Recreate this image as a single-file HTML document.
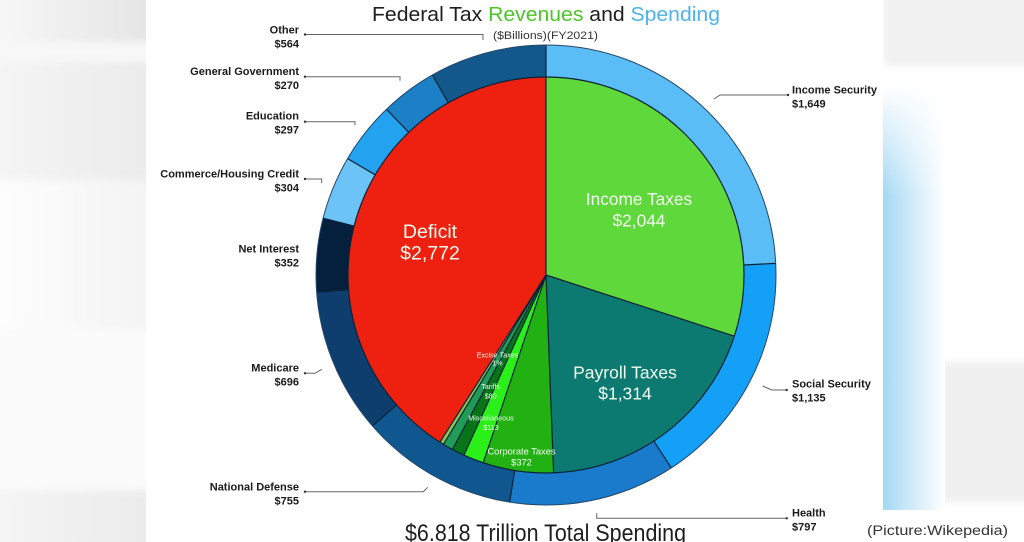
<!DOCTYPE html>
<html>
<head>
<meta charset="utf-8">
<style>
  html,body{margin:0;padding:0;background:#fff;}
  body{width:1024px;height:542px;overflow:hidden;}
  svg{display:block;}
  text{font-family:"Liberation Sans",Arial,sans-serif;}
  .lab{font-size:11px;font-weight:bold;fill:#1a1a1a;}
</style>
</head>
<body>
<svg width="1024" height="542" viewBox="0 0 1024 542" xmlns="http://www.w3.org/2000/svg">
  <defs>
    <linearGradient id="lg1" x1="0" x2="1" y1="0" y2="0">
      <stop offset="0" stop-color="#f8f8f8"/>
      <stop offset="1" stop-color="#e4e4e4"/>
    </linearGradient>
    <linearGradient id="lg2" x1="0" x2="1" y1="0" y2="0">
      <stop offset="0" stop-color="#f5f5f5"/>
      <stop offset="1" stop-color="#ebebeb"/>
    </linearGradient>
    <linearGradient id="lg3" x1="0" x2="1" y1="0" y2="0">
      <stop offset="0" stop-color="#fefefe"/>
      <stop offset="1" stop-color="#f3f3f3"/>
    </linearGradient>
    <linearGradient id="blue" x1="0" x2="1" y1="0" y2="0">
      <stop offset="0" stop-color="#a3d8f4"/>
      <stop offset="0.45" stop-color="#cfeaf9"/>
      <stop offset="1" stop-color="#ffffff"/>
    </linearGradient>
    <linearGradient id="fadeTop" x1="0" x2="0" y1="0" y2="1">
      <stop offset="0" stop-color="#ffffff" stop-opacity="1"/>
      <stop offset="1" stop-color="#ffffff" stop-opacity="0"/>
    </linearGradient>
    <filter id="blur" x="-10%" y="-10%" width="120%" height="120%">
      <feGaussianBlur stdDeviation="4"/>
    </filter>
    <clipPath id="leftClip"><rect x="0" y="0" width="146" height="542"/></clipPath>
    <clipPath id="rightClip"><rect x="883" y="0" width="141" height="542"/></clipPath>
  </defs>

  <!-- left background -->
  <rect x="0" y="0" width="146" height="542" fill="#fafafa"/>
  <g clip-path="url(#leftClip)">
    <g filter="url(#blur)">
      <rect x="-10" y="-10" width="166" height="52" fill="url(#lg1)"/>
      <rect x="-10" y="42" width="166" height="20" fill="#f8f8f8"/>
      <rect x="-10" y="62" width="166" height="118" fill="url(#lg2)"/>
      <rect x="-10" y="180" width="166" height="150" fill="url(#lg3)"/>
      <rect x="-10" y="330" width="166" height="160" fill="#fbfbfb"/>
      <rect x="-10" y="490" width="166" height="62" fill="url(#lg2)"/>
    </g>
  </g>

  <!-- right background -->
  <rect x="883" y="0" width="141" height="542" fill="#ffffff"/>
  <g clip-path="url(#rightClip)">
    <g filter="url(#blur)">
      <rect x="883" y="-10" width="151" height="76" fill="#f1f1f1"/>
      <rect x="940" y="362" width="94" height="140" fill="#f0f0f0"/>
    </g>
    <rect x="883" y="85" width="62" height="425" fill="url(#blue)"/>
    <rect x="883" y="85" width="62" height="110" fill="url(#fadeTop)"/>
  </g>

  <!-- Title -->
  <text x="372" y="21" font-size="20" textLength="348" lengthAdjust="spacingAndGlyphs"><tspan fill="#1e1e1e">Federal Tax </tspan><tspan fill="#4cc42a">Revenues</tspan><tspan fill="#1e1e1e"> and </tspan><tspan fill="#4cb3ee">Spending</tspan></text>
  <text x="493" y="39" font-size="11" fill="#333" textLength="105" lengthAdjust="spacingAndGlyphs">($Billions)(FY2021)</text>

  <!-- Outer ring -->
  <g transform="rotate(-90 546 275)" fill="none" stroke-width="32">
    <circle cx="546" cy="275" r="214" stroke="#5bbdf6" stroke-dasharray="325.32 3000" stroke-dashoffset="0"/>
    <circle cx="546" cy="275" r="214" stroke="#14a0f6" stroke-dasharray="223.73 3000" stroke-dashoffset="-325.32"/>
    <circle cx="546" cy="275" r="214" stroke="#1a7bcd" stroke-dasharray="157.24 3000" stroke-dashoffset="-549.05"/>
    <circle cx="546" cy="275" r="214" stroke="#10568f" stroke-dasharray="149.03 3000" stroke-dashoffset="-706.29"/>
    <circle cx="546" cy="275" r="214" stroke="#0d3e6e" stroke-dasharray="137.07 3000" stroke-dashoffset="-855.32"/>
    <circle cx="546" cy="275" r="214" stroke="#05203d" stroke-dasharray="69.47 3000" stroke-dashoffset="-992.39"/>
    <circle cx="546" cy="275" r="214" stroke="#6cc4f6" stroke-dasharray="60.13 3000" stroke-dashoffset="-1061.86"/>
    <circle cx="546" cy="275" r="214" stroke="#22a2ef" stroke-dasharray="58.64 3000" stroke-dashoffset="-1121.99"/>
    <circle cx="546" cy="275" r="214" stroke="#1b80c6" stroke-dasharray="53.41 3000" stroke-dashoffset="-1180.64"/>
    <circle cx="546" cy="275" r="214" stroke="#13588b" stroke-dasharray="110.80 3000" stroke-dashoffset="-1234.05"/>
  </g>

  <!-- Inner pie -->
  <g transform="rotate(-90 546 275)" fill="none" stroke-width="198">
    <circle cx="546" cy="275" r="99" stroke="#5ed83a" stroke-dasharray="186.61 3000" stroke-dashoffset="0"/>
    <circle cx="546" cy="275" r="99" stroke="#0c7a70" stroke-dasharray="120.61 3000" stroke-dashoffset="-186.61"/>
    <circle cx="546" cy="275" r="99" stroke="#21b113" stroke-dasharray="35.77 3000" stroke-dashoffset="-307.21"/>
    <circle cx="546" cy="275" r="99" stroke="#2aef18" stroke-dasharray="10.37 3000" stroke-dashoffset="-342.98"/>
    <circle cx="546" cy="275" r="99" stroke="#087418" stroke-dasharray="6.39 3000" stroke-dashoffset="-353.35"/>
    <circle cx="546" cy="275" r="99" stroke="#1f9c58" stroke-dasharray="5.18 3000" stroke-dashoffset="-359.74"/>
    <circle cx="546" cy="275" r="99" stroke="#8cc452" stroke-dasharray="2.07 3000" stroke-dashoffset="-364.92"/>
    <circle cx="546" cy="275" r="99" stroke="#ee2010" stroke-dasharray="255.30 3000" stroke-dashoffset="-366.99"/>
  </g>

  <!-- separators -->
  <g stroke="#0c2236" stroke-width="1.2" fill="none">
    <line x1="546" y1="275" x2="546" y2="45"/>
    <line x1="546" y1="275" x2="734.3" y2="336.2"/>
    <line x1="546" y1="275" x2="553.6" y2="472.9"/>
    <line x1="546" y1="275" x2="483.2" y2="462.8"/>
    <line x1="546" y1="275" x2="463.9" y2="455.2"/>
    <line x1="546" y1="275" x2="452.4" y2="449.5"/>
    <line x1="546" y1="275" x2="443.4" y2="444.4"/>
    <line x1="546" y1="275" x2="439.9" y2="442.2"/>
    <line x1="743.7" y1="265.0" x2="775.7" y2="263.4"/>
    <line x1="653.8" y1="441.1" x2="671.3" y2="467.9"/>
    <line x1="514.7" y1="470.5" x2="509.6" y2="502.1"/>
    <line x1="396.6" y1="404.9" x2="372.4" y2="425.9"/>
    <line x1="348.6" y1="289.8" x2="316.6" y2="292.2"/>
    <line x1="354.1" y1="226.1" x2="323.1" y2="218.2"/>
    <line x1="375.2" y1="174.8" x2="347.6" y2="158.6"/>
    <line x1="408.7" y1="132.3" x2="386.5" y2="109.3"/>
    <line x1="448.2" y1="102.8" x2="432.4" y2="75.0"/>
    <circle cx="546" cy="275" r="198"/>
  </g>
  <circle cx="546" cy="275" r="230" fill="none" stroke="#24486a" stroke-width="1"/>

  <!-- slice labels -->
  <g fill="#f2fbef" text-anchor="middle">
    <text x="639" y="205" font-size="17.3">Income Taxes</text>
    <text x="639" y="226.5" font-size="17.3">$2,044</text>
    <text x="430" y="238" font-size="19.5">Deficit</text>
    <text x="430" y="259.5" font-size="19.5">$2,772</text>
    <text x="625" y="378.5" font-size="17.5">Payroll Taxes</text>
    <text x="625" y="399.5" font-size="17.5">$1,314</text>
    <text x="521.5" y="454.5" font-size="9.3">Corporate Taxes</text>
    <text x="521.5" y="465.5" font-size="9.3">$372</text>
    <text x="497.5" y="357.5" font-size="7.2">Excise Taxes</text>
    <text x="497.5" y="365.5" font-size="7.2">1%</text>
    <text x="490.7" y="389" font-size="7.2">Tariffs</text>
    <text x="490.7" y="398.5" font-size="7.2">$80</text>
    <text x="491" y="420.7" font-size="7.2">Miscellaneous</text>
    <text x="491" y="430" font-size="7.2">$113</text>
  </g>

  <!-- leader lines -->
  <g stroke="#666" stroke-width="1" fill="none">
    <polyline points="305,34.5 483,34.5 483,40"/>
    <polyline points="305,76.7 400,76.7 400,80.7"/>
    <polyline points="305,121.7 355,121.7 355,125"/>
    <polyline points="305,179 321.7,179 321.7,183"/>
    <polyline points="305,373.3 315,373.3 321.7,369.3"/>
    <polyline points="305,491.7 423.3,491.7 427.7,487.3"/>
    <polyline points="788,95 720,95 714,99"/>
    <polyline points="786.7,390 771.7,390 762.7,386"/>
    <polyline points="786.7,518.3 596.7,518.3 596.7,513.3"/>
  </g>
  <g fill="#333">
    <circle cx="305" cy="34.5" r="1.2"/>
    <circle cx="305" cy="76.7" r="1.2"/>
    <circle cx="305" cy="121.7" r="1.2"/>
    <circle cx="305" cy="179" r="1.2"/>
    <circle cx="305" cy="373.3" r="1.2"/>
    <circle cx="305" cy="491.7" r="1.2"/>
    <circle cx="788" cy="95" r="1.2"/>
    <circle cx="786.7" cy="390" r="1.2"/>
    <circle cx="786.7" cy="518.3" r="1.2"/>
  </g>

  <!-- left labels -->
  <g text-anchor="end">
    <text class="lab" x="299" y="33.5">Other</text>
    <text class="lab" x="299" y="47.5">$564</text>
    <text class="lab" x="299" y="75">General Government</text>
    <text class="lab" x="299" y="89">$270</text>
    <text class="lab" x="299" y="119.5">Education</text>
    <text class="lab" x="299" y="133.5">$297</text>
    <text class="lab" x="299" y="177.5">Commerce/Housing Credit</text>
    <text class="lab" x="299" y="191.5">$304</text>
    <text class="lab" x="299" y="252.7">Net Interest</text>
    <text class="lab" x="299" y="266.7">$352</text>
    <text class="lab" x="299" y="371.5">Medicare</text>
    <text class="lab" x="299" y="385.5">$696</text>
    <text class="lab" x="299" y="490.5">National Defense</text>
    <text class="lab" x="299" y="504.5">$755</text>
  </g>

  <!-- right labels -->
  <g>
    <text class="lab" x="792" y="93.3">Income Security</text>
    <text class="lab" x="792" y="107.5">$1,649</text>
    <text class="lab" x="792" y="387.7">Social Security</text>
    <text class="lab" x="792" y="401.5">$1,135</text>
    <text class="lab" x="792" y="516.7">Health</text>
    <text class="lab" x="792" y="530.5">$797</text>
  </g>

  <!-- bottom -->
  <text x="405" y="541" font-size="24" fill="#1e1e1e" textLength="281" lengthAdjust="spacingAndGlyphs">$6.818 Trillion Total Spending</text>
  <text x="867" y="535" font-size="13.5" fill="#333" textLength="141" lengthAdjust="spacingAndGlyphs">(Picture:Wikepedia)</text>
</svg>
</body>
</html>
